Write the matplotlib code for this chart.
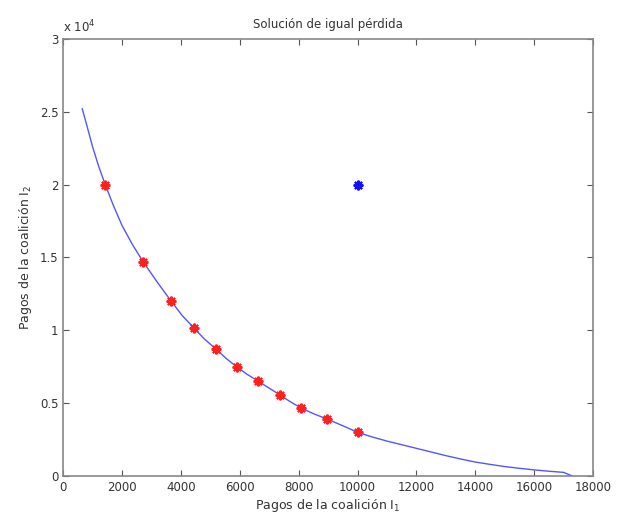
import matplotlib.pyplot as plt
from matplotlib.ticker import FuncFormatter

# Curva de igual pérdida
curve_x = [650, 800, 1000, 1200, 1430, 1700, 2000, 2350, 2720, 3200, 3670,
           4050, 4450, 4800, 5200, 5550, 5910, 6250, 6620, 7000, 7370, 7700,
           8080, 8500, 8970, 9500, 10000, 10500, 11000, 11500, 12000, 12500,
           13000, 13500, 14000, 14500, 15000, 15500, 16000, 16500, 17000,
           17300]
curve_y = [25200, 24100, 22600, 21300, 20000, 18600, 17200, 15900, 14700,
           13300, 12000, 11000, 10150, 9400, 8700, 8050, 7480, 6980, 6520,
           6030, 5560, 5120, 4670, 4280, 3910, 3450, 3000, 2680, 2400, 2150,
           1900, 1650, 1400, 1170, 960, 800, 650, 530, 420, 330, 250, 0]

# Puntos de solución
sol_x = [1430, 2720, 3670, 4450, 5200, 5910, 6620, 7370, 8080, 8970, 10000]
sol_y = [20000, 14700, 12000, 10150, 8700, 7480, 6520, 5560, 4670, 3910, 3000]

# Punto de desacuerdo
dis_x = [10000]
dis_y = [20000]

fig = plt.figure(figsize=(6.19, 5.26), dpi=100)
ax = fig.add_axes([0.102, 0.095, 0.856, 0.831])

ax.plot(curve_x, curve_y, color='#5555ff', lw=1)
ax.plot(sol_x, sol_y, ls='none', marker=(8, 2, 0), ms=7, mew=1.5,
        color='#ff2020')
ax.plot(dis_x, dis_y, ls='none', marker=(8, 2, 0), ms=7, mew=1.5,
        color='#1010ff')

ax.set_xlim(0, 18000)
ax.set_ylim(0, 30000)
ax.set_xticks(range(0, 18001, 2000))
ax.set_yticks([0, 5000, 10000, 15000, 20000, 25000, 30000])
ax.yaxis.set_major_formatter(FuncFormatter(lambda v, p: '%g' % (v / 1e4)))

grey = '#555555'
for s in ax.spines.values():
    s.set_color('#888888')
    s.set_linewidth(1.2)
ax.tick_params(direction='in', top=True, right=True, length=4,
               labelsize=8.5, colors=grey, labelcolor='#333333')

ax.text(0.0, 1.008, r'x 10$^4$', transform=ax.transAxes, fontsize=8.5,
        color='#333333', ha='left', va='bottom')
ax.set_title('Solución de igual pérdida', fontsize=8.5, color='#333333',
             pad=8)
ax.set_xlabel('Pagos de la coalición I$_1$', fontsize=9, color='#333333',
              labelpad=2)
ax.set_ylabel('Pagos de la coalición I$_2$', fontsize=9, color='#333333',
              labelpad=4)

fig.savefig('out.png', dpi=100)
